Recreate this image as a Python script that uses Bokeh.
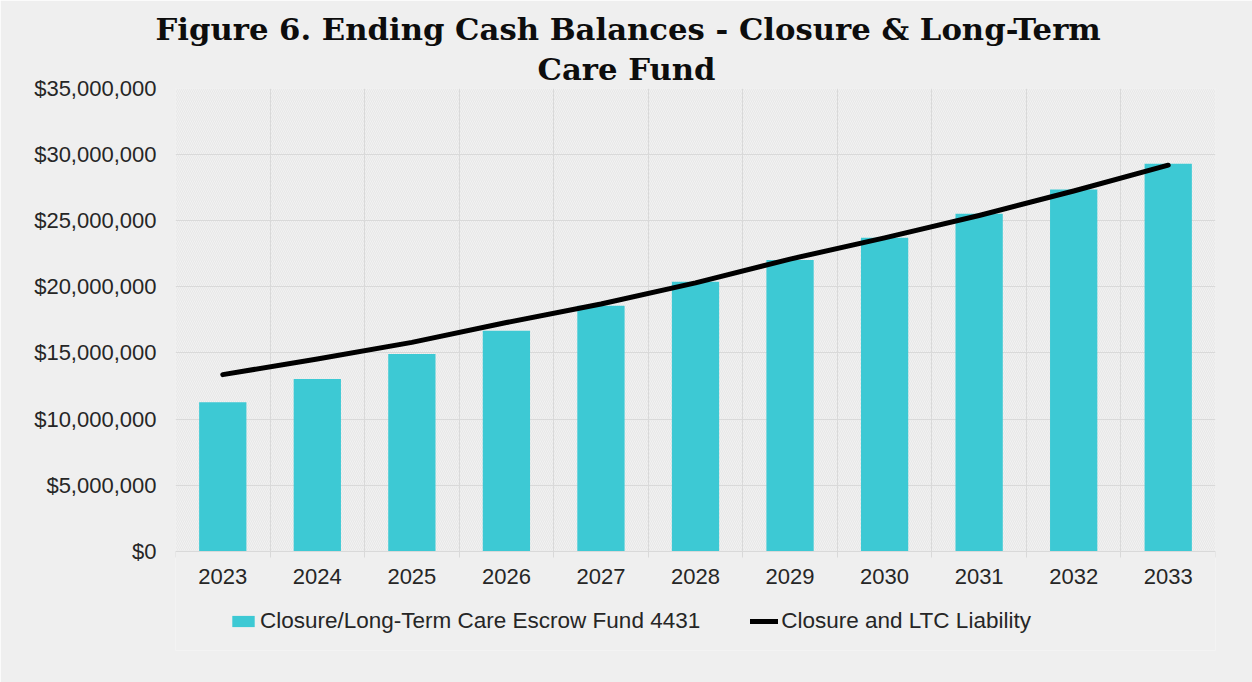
from bokeh.plotting import figure
from bokeh.models import (FixedTicker, NumeralTickFormatter, Legend, LegendItem,
                          Title, BoxAnnotation, Range1d, ColumnDataSource)
from bokeh.embed import file_html
from bokeh.resources import INLINE

# ---- data ----
years = ["2023", "2024", "2025", "2026", "2027", "2028", "2029", "2030", "2031", "2032", "2033"]
escrow_fund = [11.27e6, 13.03e6, 14.92e6, 16.68e6, 18.57e6, 20.38e6, 22.04e6, 23.72e6, 25.53e6, 27.37e6, 29.31e6]
liability = [13.36e6, 14.55e6, 15.8e6, 17.3e6, 18.7e6, 20.3e6, 22.1e6, 23.7e6, 25.4e6, 27.25e6, 29.2e6]
y_ticks = [0, 5e6, 10e6, 15e6, 20e6, 25e6, 30e6, 35e6]
y_max = 35e6
y_room_below = -7.5e6   # empty room under the axis that holds the legend

title_line1 = "Figure 6. Ending Cash Balances - Closure & Long-Term"
title_line2 = "Care Fund"
bar_label = "Closure/Long-Term Care Escrow Fund 4431"
line_label = "Closure and LTC Liability"

# ---- styles ----
BG = "#efefef"
BAR = "#3dc9d4"
GRID = "#d9d9d9"
TXT = "#262626"
FONT = "Liberation Sans"

idx = list(range(len(years)))
src = ColumnDataSource(dict(x=idx, year=years, fund=escrow_fund, liab=liability))

p = figure(width=1252, height=682, output_backend="svg", toolbar_location=None,
           x_range=Range1d(-0.5, len(years) - 0.5), y_range=Range1d(y_room_below, y_max),
           min_border_left=175, min_border_right=37, min_border_top=88, min_border_bottom=32)
p.title = None
p.background_fill_color = BG
p.border_fill_color = BG
p.outline_line_color = None

# hatched plot background (only the data area above zero)
hatch = BoxAnnotation(bottom=0, fill_color="#e7e7e7", fill_alpha=1.0, line_color=None,
                      hatch_pattern="\\", hatch_color="#f2f2f2", hatch_weight=1,
                      hatch_scale=4, hatch_alpha=1.0, level="image")
p.add_layout(hatch)

bars = p.vbar(x="x", top="fund", width=0.5, source=src, color=BAR, line_color=None)
ln = p.line(x="x", y="liab", source=src, line_color="black", line_width=5, line_cap="round",
            line_join="round")

# axes
p.xaxis.fixed_location = 0
p.xaxis.ticker = FixedTicker(ticks=idx, minor_ticks=[i - 0.5 for i in range(len(years) + 1)])
p.xaxis.major_label_overrides = {i: y for i, y in zip(idx, years)}
p.xaxis.axis_line_color = GRID
p.xaxis.major_tick_line_color = None
p.xaxis.minor_tick_line_color = GRID
p.xaxis.minor_tick_out = 6
p.xaxis.minor_tick_in = 0
p.xaxis.major_label_standoff = 12
p.xaxis.major_label_text_font = FONT
p.xaxis.major_label_text_font_size = "22px"
p.xaxis.major_label_text_color = TXT

p.yaxis.ticker = FixedTicker(ticks=y_ticks)
p.yaxis.formatter = NumeralTickFormatter(format="$0,0")
p.yaxis.axis_line_color = None
p.yaxis.major_tick_line_color = None
p.yaxis.minor_tick_line_color = None
p.yaxis.major_tick_out = 0
p.yaxis.major_label_standoff = 19
p.yaxis.major_label_text_font = FONT
p.yaxis.major_label_text_font_size = "22px"
p.yaxis.major_label_text_color = TXT

p.xgrid.ticker = FixedTicker(ticks=[i - 0.5 for i in range(len(years) + 1)])
p.xgrid.cross_bounds = (0, y_max)
p.xgrid.grid_line_color = GRID
p.ygrid.grid_line_color = GRID

# titles (two lines, centered on the page)
t2 = Title(text=title_line2, align="left", offset=362, text_font="DejaVu Serif",
           text_font_size="30.7px", text_font_style="bold", text_color="#0d0d0d", standoff=4)
t1 = Title(text=title_line1, align="left", offset=-20, text_font="DejaVu Serif",
           text_font_size="30.7px", text_font_style="bold", text_color="#0d0d0d", standoff=0)
p.add_layout(t2, "above")
p.add_layout(t1, "above")

legend = Legend(items=[LegendItem(label=bar_label, renderers=[bars]),
                       LegendItem(label=line_label, renderers=[ln])],
                orientation="horizontal", location=(54, 16), padding=0, margin=0,
                spacing=50, label_standoff=3, glyph_width=28, glyph_height=14,
                border_line_color=None, background_fill_alpha=0,
                label_text_font=FONT, label_text_font_size="22.5px", label_text_color=TXT)
p.add_layout(legend)

open("out.html", "w").write(file_html(p, INLINE))
